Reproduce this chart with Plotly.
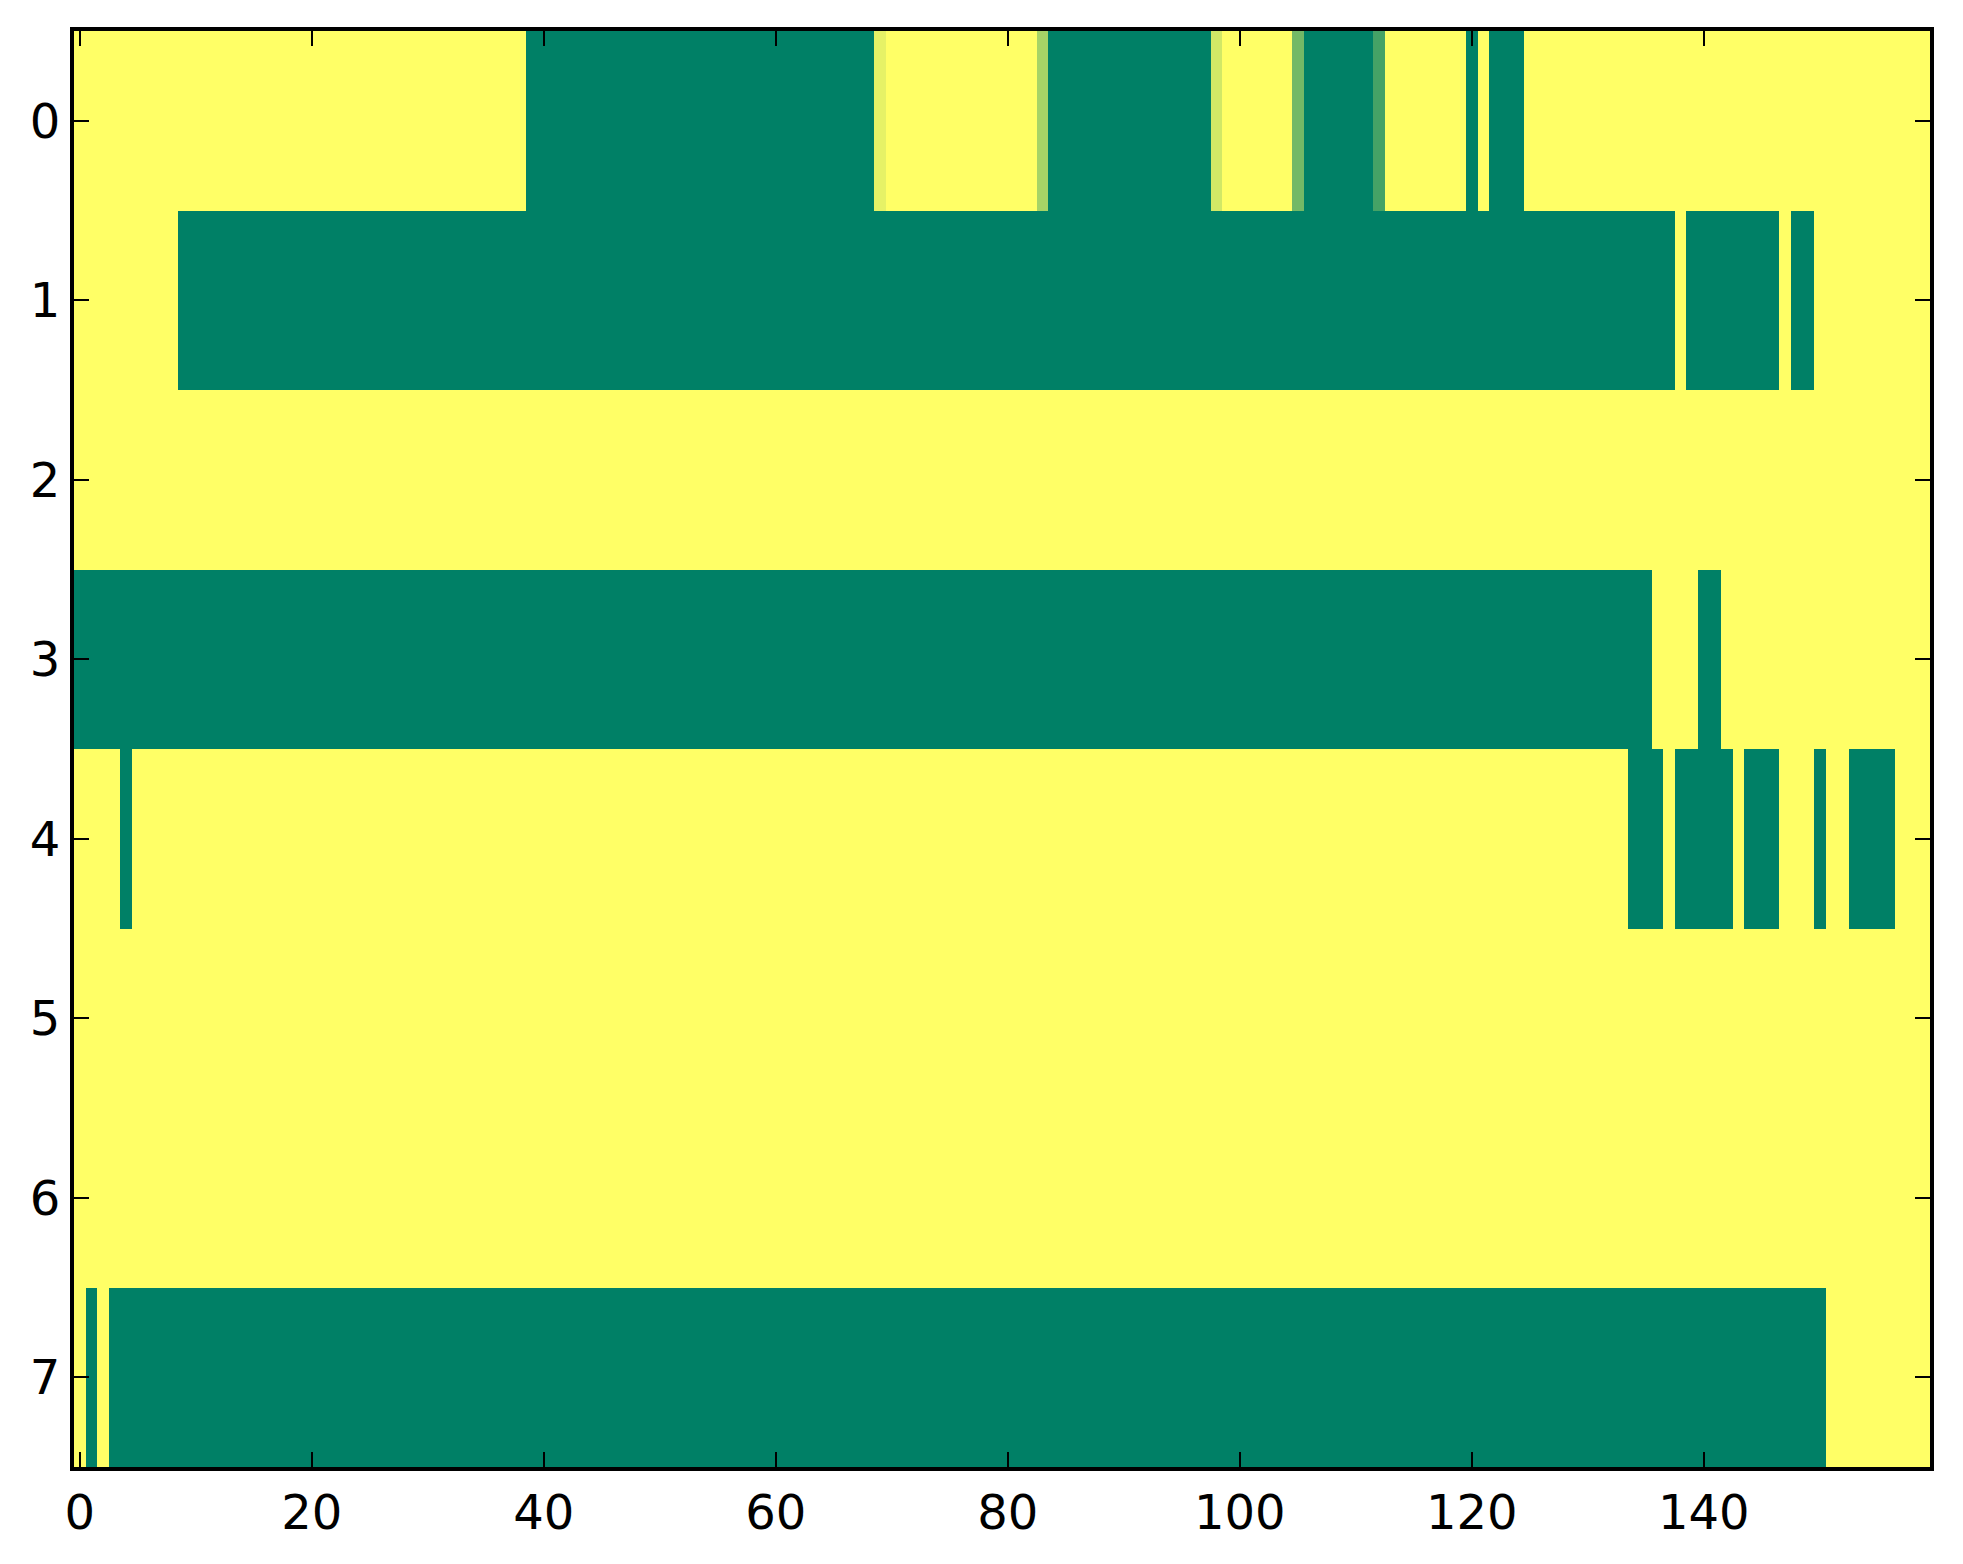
import plotly.graph_objects as go
import numpy as np

# Each row as (run length, value) pairs, left to right.
row_0 = [(39, 1.0), (30, 0.0), (1, 0.9), (13, 1.0), (1, 0.65), (14, 0.0), (1, 0.82),
         (6, 1.0), (1, 0.45), (6, 0.0), (1, 0.27), (7, 1.0), (1, 0.0), (1, 1.0),
         (3, 0.0), (35, 1.0)]
row_1 = [(9, 1.0), (129, 0.0), (1, 1.0), (8, 0.0), (1, 1.0), (2, 0.0), (10, 1.0)]
row_2 = [(160, 1.0)]
row_3 = [(136, 0.0), (4, 1.0), (2, 0.0), (18, 1.0)]
row_4 = [(4, 1.0), (1, 0.0), (129, 1.0), (3, 0.0), (1, 1.0), (5, 0.0), (1, 1.0),
         (3, 0.0), (3, 1.0), (1, 0.0), (2, 1.0), (4, 0.0), (3, 1.0)]
row_5 = [(160, 1.0)]
row_6 = [(160, 1.0)]
row_7 = [(1, 1.0), (1, 0.0), (1, 1.0), (148, 0.0), (9, 1.0)]

rows = [row_0, row_1, row_2, row_3, row_4, row_5, row_6, row_7]
x_ticks = [0, 20, 40, 60, 80, 100, 120, 140]
y_ticks = [0, 1, 2, 3, 4, 5, 6, 7]


def expand(runs):
    return np.repeat([v for _, v in runs], [n for n, _ in runs])


z = np.array([expand(r) for r in rows])

# matplotlib "summer" colormap
summer = [[0.0, "rgb(0,128,102)"], [1.0, "rgb(255,255,102)"]]

fig = go.Figure()
fig.add_trace(go.Heatmap(z=z, colorscale=summer, zmin=0, zmax=1, showscale=False))

axis_style = dict(
    showline=True, linecolor="black", linewidth=4, mirror="allticks",
    ticks="inside", ticklen=15, tickwidth=2, tickcolor="black",
    showgrid=False, zeroline=False,
    tickfont=dict(family="DejaVu Sans", size=48, color="black"),
)

fig.update_layout(
    width=1963, height=1564,
    margin=dict(l=74, r=33, t=31, b=97),
    paper_bgcolor="white", plot_bgcolor="white",
    xaxis=dict(range=[-0.5, 159.5], tickvals=x_ticks, **axis_style),
    yaxis=dict(range=[7.5, -0.5], tickvals=y_ticks, **axis_style),
)

# drop the page's default body margin so the figure sits at the window corner
fig.write_html("out.html", config={"displayModeBar": False},
               post_script="document.body.style.margin='0';document.body.style.overflow='hidden';")
